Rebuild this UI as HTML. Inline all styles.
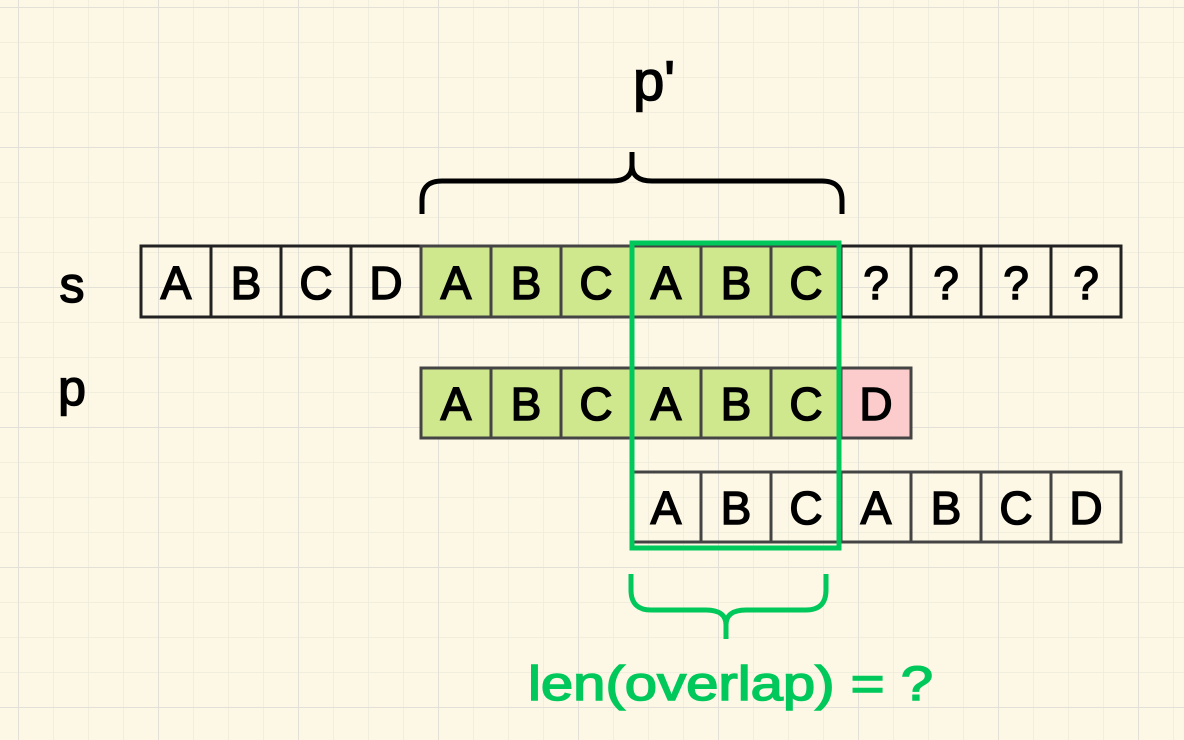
<!DOCTYPE html>
<html><head><style>
body{margin:0;width:1184px;height:740px;overflow:hidden;background:#fdf8e6;}
svg{display:block}
text{font-family:"Liberation Sans",sans-serif;}
</style></head><body>
<svg width="1184" height="740" viewBox="0 0 1184 740">
<defs>
<pattern id="mi" width="35" height="35" patternUnits="userSpaceOnUse" x="18" y="7">
<path d="M0 0H35M0 0V35" stroke="#efeadb" stroke-width="1.5" fill="none"/></pattern>
<pattern id="ma" width="140" height="140" patternUnits="userSpaceOnUse" x="18" y="7">
<path d="M0 0H140M0 0V140" stroke="#e3e0d8" stroke-width="2" fill="none"/></pattern>
</defs>
<rect width="1184" height="740" fill="#fdf8e6"/>
<rect width="1184" height="740" fill="url(#mi)"/>
<rect width="1184" height="740" fill="url(#ma)"/>
<g stroke="#222" stroke-width="3" font-size="46" text-anchor="middle">
<g>
<rect x="141" y="246" width="70" height="71" fill="none"/>
<rect x="211" y="246" width="70" height="71" fill="none"/>
<rect x="281" y="246" width="70" height="71" fill="none"/>
<rect x="351" y="246" width="70" height="71" fill="none"/>
<rect x="421" y="246" width="70" height="71" fill="#cfe88e" stroke="#444"/>
<rect x="491" y="246" width="70" height="71" fill="#cfe88e" stroke="#444"/>
<rect x="561" y="246" width="70" height="71" fill="#cfe88e" stroke="#444"/>
<rect x="631" y="246" width="70" height="71" fill="#cfe88e" stroke="#444"/>
<rect x="701" y="246" width="70" height="71" fill="#cfe88e" stroke="#444"/>
<rect x="771" y="246" width="70" height="71" fill="#cfe88e" stroke="#444"/>
<rect x="841" y="246" width="70" height="71" fill="none"/>
<rect x="911" y="246" width="70" height="71" fill="none"/>
<rect x="981" y="246" width="70" height="71" fill="none"/>
<rect x="1051" y="246" width="70" height="71" fill="none"/>
</g>
<g stroke="#444">
<rect x="421" y="368" width="70" height="70" fill="#cfe88e"/>
<rect x="491" y="368" width="70" height="70" fill="#cfe88e"/>
<rect x="561" y="368" width="70" height="70" fill="#cfe88e"/>
<rect x="631" y="368" width="70" height="70" fill="#cfe88e"/>
<rect x="701" y="368" width="70" height="70" fill="#cfe88e"/>
<rect x="771" y="368" width="70" height="70" fill="#cfe88e"/>
<rect x="841" y="368" width="70" height="70" fill="#fccccc"/>
<rect x="631" y="472" width="70" height="70" fill="none"/>
<rect x="701" y="472" width="70" height="70" fill="none"/>
<rect x="771" y="472" width="70" height="70" fill="none"/>
<rect x="841" y="472" width="70" height="70" fill="none"/>
<rect x="911" y="472" width="70" height="70" fill="none"/>
<rect x="981" y="472" width="70" height="70" fill="none"/>
<rect x="1051" y="472" width="70" height="70" fill="none"/>
</g>
<g stroke="#000" stroke-width="1.5" fill="#000">
<text x="176" y="299">A</text><text x="246" y="299">B</text><text x="316" y="299">C</text><text x="386" y="299">D</text>
<text x="456" y="299">A</text><text x="526" y="299">B</text><text x="596" y="299">C</text>
<text x="666" y="299">A</text><text x="736" y="299">B</text><text x="806" y="299">C</text>
<text x="876" y="299">?</text><text x="946" y="299">?</text><text x="1016" y="299">?</text><text x="1086" y="299">?</text>
<text x="456" y="420">A</text><text x="526" y="420">B</text><text x="596" y="420">C</text>
<text x="666" y="420">A</text><text x="736" y="420">B</text><text x="806" y="420">C</text><text x="876" y="420">D</text>
<text x="666" y="524">A</text><text x="736" y="524">B</text><text x="806" y="524">C</text>
<text x="876" y="524">A</text><text x="946" y="524">B</text><text x="1016" y="524">C</text><text x="1086" y="524">D</text>
<text x="72" y="302" font-size="50">s</text>
<text x="72" y="405" font-size="50">p</text>
<text x="654" y="100" font-size="56">p'</text>
</g>
</g>
<path d="M422 214V200Q422 181 442 181H612Q632 181 632 165V152M632 165Q632 181 652 181H822Q842 181 842 200V214" fill="none" stroke="#000" stroke-width="5"/>
<rect x="632" y="243" width="207" height="305" fill="none" stroke="#00c85a" stroke-width="5"/>
<path d="M631 574V590Q631 610 651 610H706Q726 610 726 625V639M726 625Q726 610 746 610H806Q826 610 826 590V574" fill="none" stroke="#00c85a" stroke-width="5"/>
<text x="528" y="700" font-size="48" fill="#00c85a" stroke="#00c85a" stroke-width="1.5" textLength="405" lengthAdjust="spacingAndGlyphs">len(overlap) = ?</text>
</svg>
</body></html>
